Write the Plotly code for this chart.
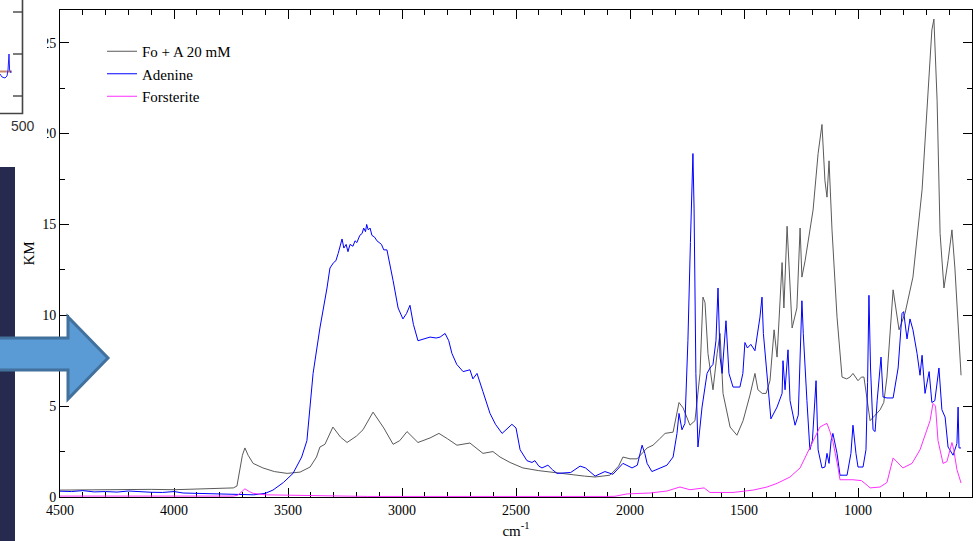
import plotly.graph_objects as go

# ---- Spectra (wavenumber in cm^-1, Kubelka-Munk units) ----
wn_fo_a = [4500, 4400, 4300, 4200, 4100, 4000, 3900, 3800, 3740, 3724, 3712, 3700, 3689, 3675,
           3653, 3630, 3610, 3560, 3504, 3447, 3403, 3375, 3360, 3338, 3303, 3270, 3241, 3200,
           3171, 3127, 3080, 3039, 3010, 2978, 2930, 2877, 2838, 2800, 2759, 2702, 2645, 2601,
           2570, 2526, 2470, 2400, 2351, 2280, 2200, 2153, 2088, 2050, 2031, 2000, 1969, 1925,
           1899, 1870, 1846, 1811, 1795, 1785, 1767, 1750, 1737, 1715, 1700, 1693, 1680, 1671,
           1658, 1636, 1618, 1605, 1592, 1561, 1531, 1504, 1474, 1452, 1439, 1420, 1403, 1386,
           1368, 1355, 1333, 1325, 1311, 1289, 1268, 1254, 1246, 1232, 1197, 1175, 1158, 1145,
           1136, 1127, 1114, 1092, 1070, 1050, 1035, 1022, 1000, 985, 974, 960, 947, 925, 903,
           887, 873, 846, 820, 794, 759, 719, 697, 676, 667, 653, 640, 623, 605, 588, 575, 548]
km_fo_a = [0.38, 0.40, 0.42, 0.40, 0.42, 0.40, 0.45, 0.48, 0.50, 0.60, 1.4, 2.3, 2.7, 2.3,
           1.85, 1.7, 1.6, 1.4, 1.3, 1.37, 1.65, 2.2, 2.75, 2.9, 3.85, 3.3, 3.0, 3.35,
           3.7, 4.67, 3.8, 2.9, 3.1, 3.6, 3.0, 3.25, 3.5, 3.2, 2.85, 2.97, 2.4, 2.5,
           2.2, 1.9, 1.6, 1.45, 1.37, 1.25, 1.15, 1.1, 1.2, 1.7, 2.2, 2.1, 2.1, 2.7,
           2.85, 3.2, 3.5, 3.57, 4.5, 5.2, 4.9, 4.3, 3.95, 4.2, 6.0, 6.8, 11.0, 10.7,
           7.9, 5.9, 7.9, 9.0, 5.7, 3.85, 3.4, 4.2, 5.6, 6.8, 5.9, 5.7, 5.7, 6.4,
           9.2, 7.7, 12.9, 10.4, 14.9, 9.3, 10.4, 14.8, 12.1, 13.0, 15.8, 18.9, 20.5, 17.4,
           16.5, 18.5, 14.7, 9.9, 6.6, 6.5, 6.6, 6.8, 6.4, 6.6, 6.6, 5.4, 4.2, 4.5, 4.8,
           5.2, 6.6, 11.4, 9.2, 10.1, 12.1, 16.9, 21.1, 25.7, 26.3, 21.8, 14.5, 11.5, 13.0, 14.7, 12.6, 6.7]

wn_adenine = [4500, 4450, 4400, 4350, 4300, 4250, 4200, 4150, 4100, 4050, 4000, 3960, 3900, 3850,
              3800, 3750, 3700, 3650, 3600, 3566, 3520, 3478, 3440, 3417, 3390, 3360, 3329, 3316,
              3300, 3290, 3280, 3270, 3263, 3255, 3245, 3237, 3228, 3215, 3206, 3198, 3185, 3175,
              3168, 3160, 3155, 3148, 3140, 3132, 3120, 3110, 3100, 3090, 3080, 3066,
              3039, 3017, 2996, 2980, 2965, 2950, 2930, 2900, 2877, 2850, 2833, 2811, 2795,
              2781, 2760, 2732, 2702, 2689, 2671, 2645, 2614, 2590, 2561, 2535, 2518, 2500, 2482,
              2452, 2430, 2417, 2400, 2386, 2360, 2340, 2320, 2260, 2219, 2195, 2153, 2110, 2075,
              2031, 1991, 1968, 1947, 1935, 1925, 1904, 1868, 1838, 1811, 1794, 1785, 1772, 1759,
              1746, 1735, 1728, 1724, 1719, 1711, 1702, 1684, 1662, 1649, 1636, 1623, 1614, 1605,
              1596, 1588, 1579, 1566, 1548, 1518, 1505, 1496, 1485, 1470, 1452, 1430, 1421, 1415,
              1403, 1395, 1382, 1355, 1333, 1329, 1320, 1307, 1298, 1276, 1262, 1246, 1240, 1224,
              1211, 1200, 1184, 1175, 1158, 1145, 1136, 1127, 1118, 1110, 1092, 1079, 1048, 1031,
              1022, 1009, 1000, 978, 965, 958, 952, 945, 934, 925, 916, 899, 890, 873, 846, 824,
              807, 800, 785, 772, 759, 741, 728, 719, 706, 688, 676, 663, 645, 632, 618, 605,
              583, 566, 561, 557, 548]
km_adenine = [0.32, 0.30, 0.35, 0.28, 0.30, 0.27, 0.33, 0.28, 0.26, 0.25, 0.30, 0.22, 0.20, 0.18,
              0.17, 0.15, 0.12, 0.12, 0.20, 0.38, 0.8, 1.3, 2.2, 3.1, 6.8, 9.3, 11.5, 12.6,
              12.9, 13.0, 13.4, 13.8, 14.2, 13.7, 13.9, 13.5, 13.9, 13.8, 14.1, 14.0, 14.4, 14.5,
              14.8, 14.6, 15.0, 14.7, 14.8, 14.4, 14.3, 14.1, 14.0, 13.9, 13.6, 13.6,
              11.9, 10.4, 9.8, 10.1, 10.55, 9.5, 8.6, 8.7, 8.8, 8.75, 8.8, 9.0, 8.6,
              7.9, 7.3, 6.9, 7.0, 6.5, 6.8, 5.8, 4.6, 4.0, 3.5, 3.8, 4.0, 3.8, 2.6,
              2.0, 1.9, 2.0, 1.7, 1.6, 1.75, 1.5, 1.3, 1.35, 1.7, 1.6, 1.15, 1.4, 1.25,
              1.85, 1.6, 1.75, 2.85, 2.4, 1.85, 1.4, 1.6, 1.75, 2.2, 3.5, 4.6, 3.7, 4.05,
              8.6, 14.0, 16.9, 18.9, 15.9, 6.8, 2.75, 4.95, 6.8, 7.1, 7.3, 8.6, 11.5, 7.7,
              6.8, 8.2, 9.7, 6.8, 6.05, 6.05, 6.8, 8.5, 8.2, 8.4, 8.05, 9.9, 11.0, 9.0,
              7.35, 6.05, 4.3, 4.95, 5.7, 7.5, 5.9, 8.1, 5.3, 3.95, 4.5, 10.8, 9.0, 5.3,
              2.6, 3.1, 6.4, 2.6, 1.6, 1.65, 2.4, 1.85, 3.1, 3.5, 2.4, 1.2, 1.2, 2.4,
              3.95, 2.4, 1.65, 1.65, 2.6, 6.3, 11.1, 7.1, 3.7, 3.6, 5.3, 7.7, 5.5, 5.45, 5.45, 7.1,
              10.1, 10.2, 8.7, 9.8, 9.2, 7.9, 6.7, 7.8, 5.7, 6.9, 5.2, 5.3, 7.1, 4.8, 4.4, 2.75,
              2.3, 2.95, 4.95, 2.7, 2.7]

wn_forst = [4500, 3740, 3720, 3700, 3689, 3670, 3653, 3600, 3504, 3400, 3300, 3171, 3150, 2100,
            2066, 2013, 1950, 1912, 1838, 1781, 1737, 1700, 1675, 1649, 1548, 1460, 1399, 1355,
            1311, 1298, 1254, 1211, 1167, 1145, 1136, 1123, 1110, 1088, 1079, 1022, 985, 960,
            947, 903, 873, 846, 803, 763, 728, 684, 671, 660, 649, 627, 610, 588, 580, 566, 548]
km_forst = [0.05, 0.05, 0.10, 0.35, 0.45, 0.30, 0.20, 0.12, 0.10, 0.10, 0.08, 0.06, 0.03, 0.03,
            0.04, 0.17, 0.20, 0.22, 0.33, 0.55, 0.40, 0.45, 0.50, 0.25, 0.25, 0.38, 0.55, 0.75,
            1.05, 1.1, 1.6, 2.75, 3.85, 4.0, 4.05, 3.6, 3.05, 1.65, 0.95, 0.95, 0.9, 0.65,
            0.5, 0.55, 0.8, 2.15, 1.6, 1.85, 2.6, 4.2, 5.15, 5.0, 3.1, 1.85, 1.95, 3.0, 2.6, 1.5, 0.77]

series_names = ["Fo + A 20 mM", "Adenine", "Forsterite"]
series_colors = ["#5a5a5a", "#0000ff", "#ff30ff"]

W, H = 978, 541
L, R, T, B = 60, 6, 10, 44
PW, PH = W - L - R, H - T - B


def px(x):
    """Pixel column -> paper x."""
    return (x - L) / PW


def py(y):
    """Pixel row -> paper y."""
    return (H - B - y) / PH


fig = go.Figure()
for wn, km, name, color in zip([wn_fo_a, wn_adenine, wn_forst],
                               [km_fo_a, km_adenine, km_forst],
                               series_names, series_colors):
    fig.add_trace(go.Scatter(x=wn, y=km, mode="lines", name=name,
                             line=dict(color=color, width=1)))

serif = "Liberation Serif, Times New Roman, serif"

axis_common = dict(
    showline=True, linecolor="black", linewidth=1, mirror="ticks",
    ticks="inside", ticklen=9, tickcolor="black", tickwidth=1,
    showgrid=False, zeroline=False, layer="below traces", automargin=False,
    tickfont=dict(family=serif, size=14, color="black"),
)

fig.update_xaxes(range=[4500, 500], dtick=500, tick0=500,
                 minor=dict(dtick=100, ticks="inside", ticklen=5, tickcolor="black"),
                 title=dict(text="cm<sup>-1</sup>", font=dict(family=serif, size=15, color="black"),
                            standoff=8),
                 **axis_common)
fig.update_yaxes(range=[0, 26.8], dtick=5, tick0=0,
                 minor=dict(dtick=2.5, ticks="inside", ticklen=5, tickcolor="black"),
                 title=dict(text="KM", font=dict(family=serif, size=15, color="black"),
                            standoff=3),
                 **axis_common)

shapes = []
# small neighbouring panel in the upper-left corner
shapes.append(dict(type="rect", xref="paper", yref="paper", layer="above",
                   x0=px(0), x1=px(47), y0=py(0), y1=py(143),
                   fillcolor="white", line=dict(width=0)))
shapes.append(dict(type="path", xref="paper", yref="paper", layer="above",
                   path=f"M{px(0)},{py(71.5)} L{px(12)},{py(71.5)}",
                   line=dict(color="#c8876a", width=2)))
blue_pts = [(0, 74), (2, 77), (5, 78), (7, 76), (8, 70), (9, 54), (9.6, 70), (11, 73)]
shapes.append(dict(type="path", xref="paper", yref="paper", layer="above",
                   path="M" + " L".join(f"{px(a)},{py(b)}" for a, b in blue_pts),
                   line=dict(color="#2020ff", width=1)))
shapes.append(dict(type="path", xref="paper", yref="paper", layer="above",
                   path=f"M{px(22.5)},{py(0)} L{px(22.5)},{py(113.5)} L{px(0)},{py(113.5)}",
                   line=dict(color="#444444", width=1.6)))
for ty in (12, 54, 96):
    shapes.append(dict(type="line", xref="paper", yref="paper", layer="above",
                       x0=px(13), x1=px(22.5), y0=py(ty), y1=py(ty),
                       line=dict(color="#444444", width=1.4)))
# dark side band
shapes.append(dict(type="rect", xref="paper", yref="paper", layer="above",
                   x0=px(0), x1=px(15), y0=py(167), y1=py(541),
                   fillcolor="#262a4e", line=dict(width=0)))
# block arrow
arrow_pts = [(-5, 338), (68, 338), (68, 317), (108, 358), (68, 399), (68, 370), (-5, 370)]
shapes.append(dict(type="path", xref="paper", yref="paper", layer="above",
                   path="M" + " L".join(f"{px(a)},{py(b)}" for a, b in arrow_pts) + " Z",
                   fillcolor="#5b9bd5", line=dict(color="#41719c", width=3)))

annotations = [dict(text="500", xref="paper", yref="paper", x=px(23), y=py(126),
                    xanchor="center", yanchor="middle", showarrow=False,
                    font=dict(family="Liberation Sans, Arial, sans-serif", size=14, color="#333333"))]

fig.update_layout(
    width=W, height=H,
    margin=dict(l=L, r=R, t=T, b=B, autoexpand=False),
    paper_bgcolor="white", plot_bgcolor="white",
    showlegend=True,
    legend=dict(x=px(102), y=py(35), xanchor="left", yanchor="top",
                bgcolor="rgba(0,0,0,0)", borderwidth=0,
                font=dict(family=serif, size=15, color="black"),
                tracegroupgap=0),
    shapes=shapes,
    annotations=annotations,
)

fig.write_html("out.html")
